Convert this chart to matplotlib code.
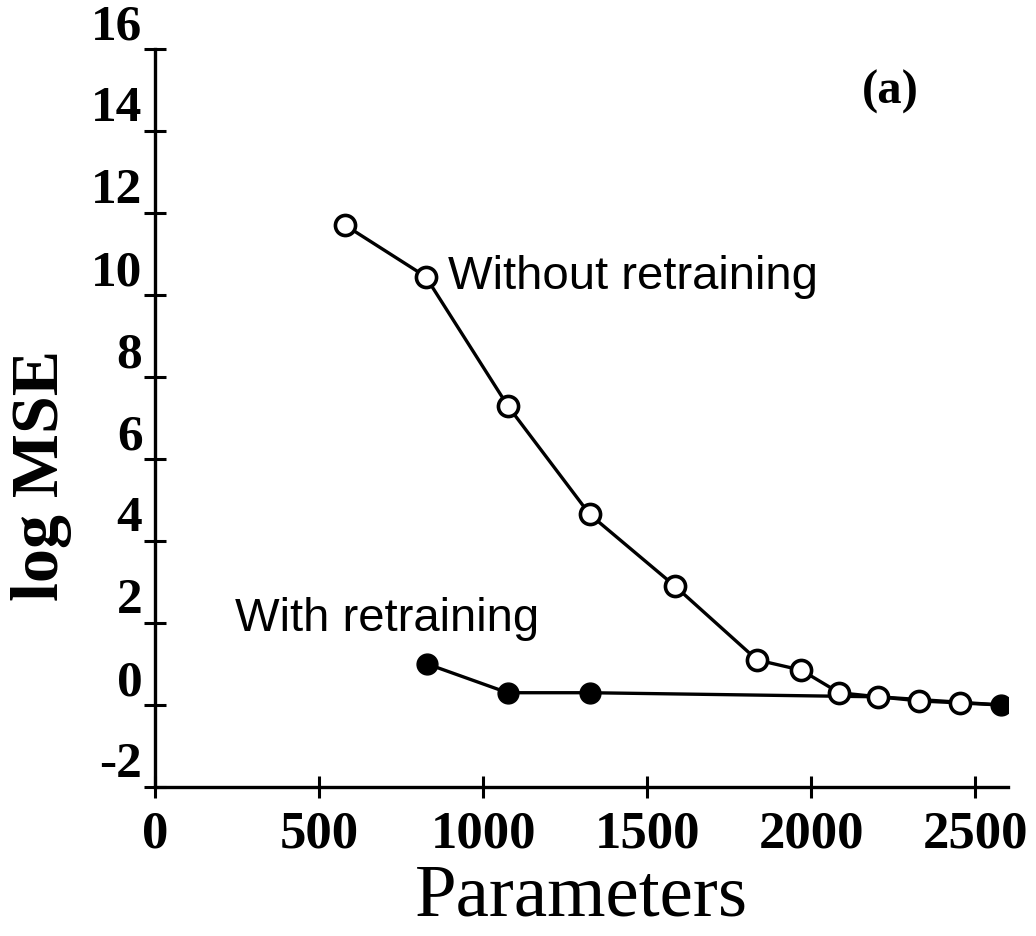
import matplotlib.pyplot as plt

# open circles: pruning without retraining
params_without = [580, 825, 1075, 1325, 1585, 1835, 1970, 2085, 2205, 2330, 2455]
mse_without = [11.7, 10.45, 7.3, 4.65, 2.9, 1.1, 0.85, 0.3, 0.2, 0.1, 0.05]

# filled circles: pruning with retraining
params_with = [830, 1075, 1325, 2205, 2580]
mse_with = [1.0, 0.3, 0.3, 0.2, 0.0]

xticks = [0, 500, 1000, 1500, 2000, 2500]
yticks = [-2, 0, 2, 4, 6, 8, 10, 12, 14, 16]

plt.rcParams['font.family'] = ['Liberation Serif', 'DejaVu Serif']

fig = plt.figure(figsize=(10.36, 9.37), dpi=100)
ax = fig.add_axes([0.1496, 0.159, 0.8234, 0.7876])

ax.plot(params_with, mse_with, '-', color='black', lw=2.4,
        marker='o', ms=15, mfc='black', mec='black', zorder=2)
ax.plot(params_without + [params_with[-1]], mse_without + [mse_with[-1]], '-',
        color='black', lw=2.4, zorder=3)
ax.plot(params_without, mse_without, 'o', ms=14.5, mfc='white', mec='black',
        mew=2.6, zorder=4)

ax.set_xlim(0, 2600)
ax.set_ylim(-2, 16)
ax.set_xticks(xticks)
ax.set_yticks(yticks)
ax.set_xticklabels([str(v) for v in xticks], fontsize=38, fontweight='bold')
ax.set_yticklabels([str(v) for v in yticks], fontsize=37, fontweight='bold',
                   va='bottom')

for s in ['top', 'right']:
    ax.spines[s].set_visible(False)
for s in ['left', 'bottom']:
    ax.spines[s].set_linewidth(2.4)
ax.tick_params(direction='inout', length=16, width=2.2)
ax.tick_params(axis='x', pad=8)
ax.tick_params(axis='y', pad=1)

ax.set_xlabel('Parameters', fontsize=54, labelpad=4)
ax.set_ylabel('log MSE', fontsize=49, fontweight='bold')
ax.yaxis.set_label_coords(-0.097, 0.423)

ax.text(893, 10.17, 'Without retraining', fontsize=34,
        family=['Liberation Sans', 'DejaVu Sans'], va='baseline')
ax.text(244, 1.83, 'With retraining', fontsize=34,
        family=['Liberation Sans', 'DejaVu Sans'], va='baseline')
ax.text(2155, 14.7, '(a)', fontsize=35, fontweight='bold', va='baseline')

fig.savefig('out.png', dpi=100)
